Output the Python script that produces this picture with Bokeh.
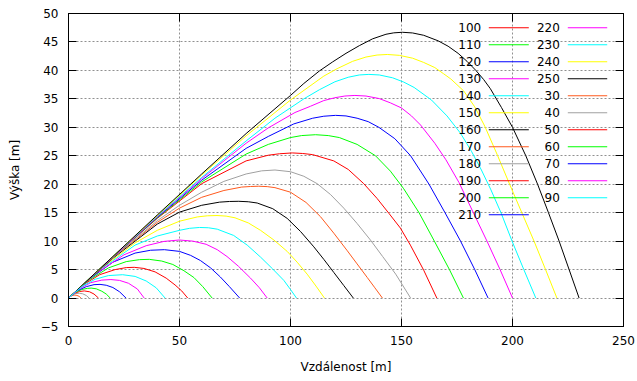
from bokeh.plotting import figure
from bokeh.models import Range1d, LinearAxis, Label, BoxAnnotation, FixedTicker
from bokeh.embed import file_html
from bokeh.resources import INLINE

# ---- data (distance [m], height [m]) ----
x30 = [0, 1, 2, 2.9, 3.8, 4.8, 5.6]
y30 = [0, 0.3, 0.48, 0.52, 0.46, 0.3, 0]
x40 = [0, 1.6, 3.2, 4.8, 6.4, 8, 9.3]
y40 = [0, 0.5, 0.78, 0.85, 0.75, 0.45, 0]
x50 = [0, 2.5, 5, 7.1, 9.5, 11.5, 13.5]
y50 = [0, 0.8, 1.15, 1.25, 1.1, 0.7, 0]
x60 = [0, 3, 6, 8.5, 10.2, 12.5, 15, 17, 18.8]
y60 = [0, 1.0, 1.5, 1.7, 1.75, 1.62, 1.2, 0.7, 0]
x70 = [0, 4, 8, 11.5, 14.2, 17, 20, 23, 25.9]
y70 = [0, 1.3, 2.0, 2.35, 2.4, 2.25, 1.85, 1.1, 0]
x80 = [0, 5, 10, 15, 19.1, 23, 27, 31, 34.1]
y80 = [0, 1.65, 2.7, 3.15, 3.25, 3.1, 2.6, 1.6, 0]
x90 = [0, 6, 12, 18, 24.4, 30, 35, 39.5, 43.5]
y90 = [0, 2.0, 3.3, 3.95, 4.1, 3.8, 3.0, 1.8, 0]
x100 = [0, 7, 14, 21, 26, 29.6, 34, 39, 44, 48, 51, 53.7]
y100 = [0, 2.4, 4.1, 5.0, 5.35, 5.4, 5.2, 4.6, 3.5, 2.3, 1.25, 0]
x110 = [0, 9, 18, 26, 32, 36.4, 42, 47, 52, 56.5, 60.5, 64.7]
y110 = [0, 3.1, 5.3, 6.4, 6.75, 6.8, 6.5, 5.9, 4.8, 3.6, 2.0, 0]
x120 = [0, 10, 20, 30, 37, 43.2, 50, 55, 59.4, 64, 68.4, 72.5, 77.1]
y120 = [0, 3.5, 6.3, 7.9, 8.4, 8.5, 8.2, 7.5, 6.6, 5.3, 3.7, 2.0, 0]
x130 = [0, 12, 25, 35, 43, 49.9, 56, 62, 67, 71.4, 76.5, 82, 86, 89.5]
y130 = [0, 4.2, 7.6, 9.2, 9.95, 10.2, 10.0, 9.45, 8.5, 7.3, 5.6, 3.5, 1.8, 0]
x140 = [0, 15, 30, 40, 50, 54.5, 59, 63, 67, 74.4, 80.5, 86.5, 92, 97, 100, 102.7]
y140 = [0, 5.2, 9.3, 10.9, 11.9, 12.25, 12.4, 12.35, 12.1, 11.0, 9.3, 7.2, 5.1, 3.1, 1.5, 0]
x150 = [0, 15, 30, 40, 50, 58, 62.5, 66.9, 71, 75, 81, 86.5, 92.5, 98.5, 103, 107.5, 111.5, 115.3]
y150 = [0, 5.3, 9.7, 11.9, 13.5, 14.25, 14.45, 14.5, 14.4, 14.1, 13.2, 11.9, 10.2, 8.2, 6.3, 4.2, 2.1, 0]
x160 = [0, 20, 40, 50, 60, 68, 72.5, 76.7, 81, 85, 92, 98.5, 104.5, 110.5, 115, 119.5, 124, 128.3]
y160 = [0, 7.0, 13.0, 15.1, 16.3, 16.85, 16.97, 17.0, 16.92, 16.7, 15.7, 14.0, 11.7, 9.0, 6.8, 4.5, 2.2, 0]
x170 = [0, 20, 40, 50, 60, 70, 78, 82, 85.7, 89.5, 93, 100, 107, 113.5, 119.5, 125.6, 130, 134.6, 138, 141.4]
y170 = [0, 7.1, 13.3, 15.8, 17.7, 18.9, 19.5, 19.6, 19.65, 19.58, 19.4, 18.6, 16.8, 14.3, 11.4, 8.3, 6.0, 3.6, 1.8, 0]
x180 = [0, 20, 40, 50, 60, 70, 80, 87, 93, 100, 106, 112, 118, 124, 130, 136, 141.5, 147.4, 154.1]
y180 = [0, 7.1, 13.6, 16.3, 18.6, 20.5, 21.8, 22.35, 22.5, 22.2, 21.4, 20.1, 18.2, 15.8, 13.1, 10.2, 7.3, 4.2, 0]
x190 = [0, 20, 40, 60, 80, 90, 95, 100.8, 105.5, 110, 119.5, 126, 133, 139, 144.5, 149.5, 154, 160, 165.9]
y190 = [0, 7.2, 14.0, 20.1, 24.1, 25.1, 25.35, 25.5, 25.4, 25.2, 24.1, 22.6, 20.1, 17.5, 14.8, 12.3, 9.3, 4.9, 0]
x200 = [0, 20, 40, 60, 80, 90, 100, 105, 111.3, 117, 122, 130, 138.3, 145, 151, 157.9, 164.8, 171.6, 177.9]
y200 = [0, 7.2, 14.1, 20.4, 25.3, 27.0, 28.2, 28.55, 28.7, 28.55, 28.2, 27.0, 25.0, 22.3, 19.2, 15.0, 10.0, 5.0, 0]
x210 = [0, 20, 40, 60, 80, 90, 101.5, 110, 115, 120.3, 125, 130, 135, 139.8, 147, 154.1, 162.4, 169.6, 176.6, 183, 189]
y210 = [0, 7.2, 14.2, 20.7, 26.3, 28.4, 30.6, 31.6, 31.95, 32.1, 32.0, 31.6, 31.0, 30.0, 28.0, 25.0, 20.0, 15.0, 10.0, 5.0, 0]
x220 = [0, 20, 40, 60, 80, 90, 102, 109, 115, 120, 124.5, 129, 134, 140, 145, 150, 154.5, 158.6, 165, 170, 175.9, 182, 188.5, 194.4, 200]
y220 = [0, 7.2, 14.3, 21.0, 27.2, 29.9, 32.6, 33.7, 34.7, 35.2, 35.5, 35.6, 35.5, 35.05, 34.3, 33.4, 32.0, 30.4, 27.2, 24.3, 20.3, 15.3, 10.0, 5.0, 0]
x230 = [0, 20, 40, 60, 80, 93, 106, 113, 120, 126, 131, 135.3, 140, 146, 151, 155.7, 163.5, 170.5, 176.5, 181.5, 186, 190.3, 194.8, 199.8, 205.1, 210.5]
y230 = [0, 7.3, 14.4, 21.2, 27.6, 31.6, 35.0, 36.6, 38.0, 38.8, 39.2, 39.3, 39.2, 38.7, 37.95, 37.0, 34.8, 32.0, 29.0, 25.8, 22.5, 19.0, 15.0, 10.0, 5.0, 0]
x240 = [0, 20, 40, 60, 80, 100, 115, 121, 128, 134, 139, 143.6, 149, 155, 160, 165, 169, 172.2, 178, 183, 187.5, 193, 198.7, 204.2, 209.7, 214.9, 220]
y240 = [0, 7.3, 14.5, 21.6, 28.5, 34.8, 39.0, 40.3, 41.6, 42.35, 42.7, 42.8, 42.65, 42.15, 41.4, 40.5, 39.4, 38.5, 36.4, 33.6, 30.2, 25.3, 20.0, 15.0, 10.0, 5.0, 0]
x250 = [0, 20, 40, 60, 80, 100, 106, 113, 119, 125, 131, 137, 143, 146.5, 150.4, 155, 160, 166.5, 171, 175.5, 179.5, 183.5, 187, 190, 195, 200, 206, 211.3, 216.2, 221, 225.5, 230]
y250 = [0, 7.3, 14.6, 21.8, 28.9, 35.6, 37.7, 39.9, 41.5, 43.0, 44.35, 45.55, 46.35, 46.6, 46.7, 46.58, 46.17, 45.2, 44.25, 43.0, 41.6, 40.0, 38.4, 36.8, 33.5, 30.0, 25.0, 20.0, 15.0, 10.0, 5.0, 0]

# series in the order of the key (sorted as text)
names = ["100", "110", "120", "130", "140", "150", "160", "170", "180", "190",
         "200", "210", "220", "230", "240", "250", "30", "40", "50", "60",
         "70", "80", "90"]
xs = {"30": x30, "40": x40, "50": x50, "60": x60, "70": x70, "80": x80, "90": x90,
      "100": x100, "110": x110, "120": x120, "130": x130, "140": x140, "150": x150,
      "160": x160, "170": x170, "180": x180, "190": x190, "200": x200, "210": x210,
      "220": x220, "230": x230, "240": x240, "250": x250}
ys = {"30": y30, "40": y40, "50": y50, "60": y60, "70": y70, "80": y80, "90": y90,
      "100": y100, "110": y110, "120": y120, "130": y130, "140": y140, "150": y150,
      "160": y160, "170": y170, "180": y180, "190": y190, "200": y200, "210": y210,
      "220": y220, "230": y230, "240": y240, "250": y250}

x_ticks = [0, 50, 100, 150, 200, 250]
y_ticks = [-5, 0, 5, 10, 15, 20, 25, 30, 35, 40, 45, 50]

palette = ["#ff0000", "#00ff00", "#0000ff", "#ff00ff", "#00ffff",
           "#ffff00", "#000000", "#ff5a1e", "#a0a0a0"]

FONT = "DejaVu Sans"
FS = "12px"

p = figure(width=637, height=381, output_backend="svg", toolbar_location=None,
           x_range=Range1d(0, 250), y_range=Range1d(-5, 50),
           min_border_left=68, min_border_right=14, min_border_top=13,
           min_border_bottom=55)
p.background_fill_color = "white"
p.border_fill_color = "white"
p.outline_line_color = "black"
p.outline_line_width = 1

p.xaxis.ticker = FixedTicker(ticks=x_ticks)
p.yaxis.ticker = FixedTicker(ticks=y_ticks)
p.xaxis.axis_label = "Vzdálenost [m]"
p.yaxis.axis_label = "Výška [m]"

for ax in (p.xaxis[0], p.yaxis[0]):
    ax.major_tick_in = 8
    ax.major_tick_out = 0
    ax.minor_tick_in = 0
    ax.minor_tick_out = 0
    ax.axis_line_color = "black"
    ax.major_tick_line_color = "black"
    ax.major_label_text_font = FONT
    ax.major_label_text_font_size = FS
    ax.major_label_text_color = "black"
    ax.axis_label_text_font = FONT
    ax.axis_label_text_font_size = FS
    ax.axis_label_text_font_style = "normal"
    ax.axis_label_text_color = "black"

p.xaxis.major_label_standoff = 9
p.xaxis.axis_label_standoff = 12
p.yaxis.major_label_standoff = 10
p.yaxis.axis_label_standoff = 16

# mirrored tick marks on the right and on top (no labels)
right_ax = LinearAxis(ticker=FixedTicker(ticks=y_ticks))
top_ax = LinearAxis(ticker=FixedTicker(ticks=x_ticks))
right_ax.major_label_overrides = {t: "" for t in y_ticks}
top_ax.major_label_overrides = {t: "" for t in x_ticks}
for ax in (right_ax, top_ax):
    ax.major_tick_in = 8
    ax.major_tick_out = 0
    ax.minor_tick_in = 0
    ax.minor_tick_out = 0
    ax.axis_line_color = "black"
    ax.major_label_text_color = None
    ax.major_label_text_font_size = "1px"
    ax.major_label_standoff = 0
p.add_layout(right_ax, "right")
p.add_layout(top_ax, "above")

for g in (p.xgrid[0], p.ygrid[0]):
    g.grid_line_color = "#909090"
    g.grid_line_dash = "2 2"
    g.grid_line_width = 1

colors = [palette[i % len(palette)] for i in range(len(names))]
for n, c in zip(names, colors):
    p.line(xs[n], ys[n], line_color=c, line_width=1)

# key: two columns, text right-aligned then a line sample (screen units from frame)
text_right = [412.7, 491.3]
sample_left = [420.3, 499.3]
sample_right = [460.3, 538.7]
row0 = 298.7
row_step = 17.0
rows_per_col = 12
for i, (n, c) in enumerate(zip(names, colors)):
    col = i // rows_per_col
    row = i % rows_per_col
    yy = row0 - row * row_step
    p.add_layout(Label(x=text_right[col], y=yy, x_units="screen", y_units="screen",
                       text=n, text_align="right", text_baseline="middle",
                       text_font=FONT, text_font_size=FS, text_color="black"))
    p.add_layout(BoxAnnotation(left=sample_left[col], right=sample_right[col],
                               bottom=yy - 0.5, top=yy + 0.5,
                               left_units="screen", right_units="screen",
                               bottom_units="screen", top_units="screen",
                               fill_color=c, fill_alpha=1.0, line_color=None))

open("out.html", "w").write(file_html(p, INLINE))
